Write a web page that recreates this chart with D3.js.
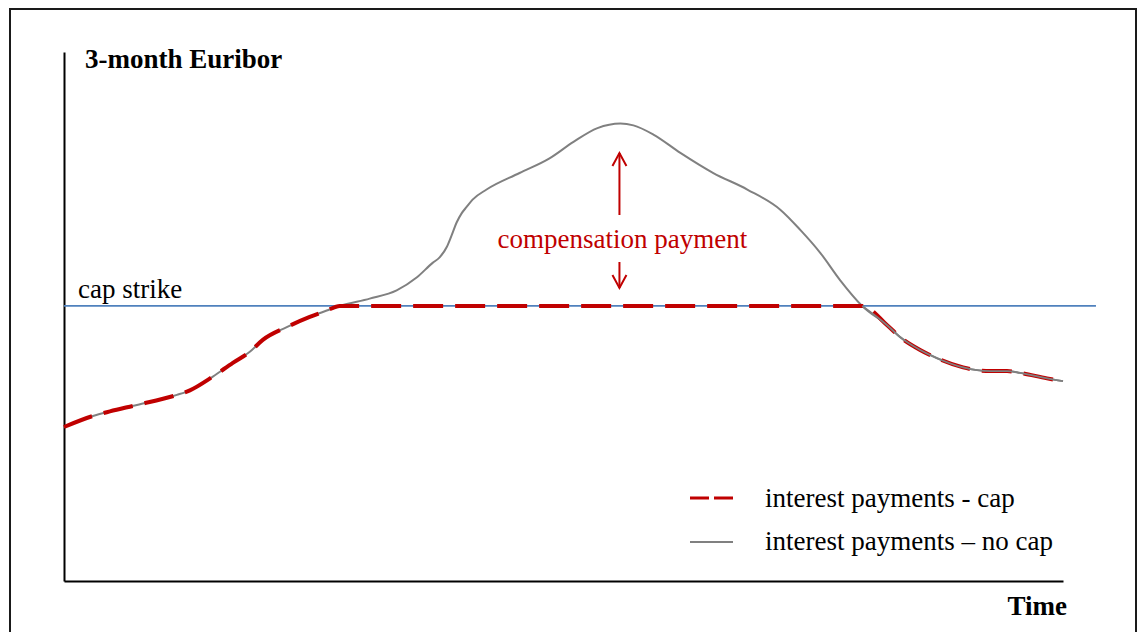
<!DOCTYPE html>
<html>
<head>
<meta charset="utf-8">
<script src="https://cdn.jsdelivr.net/npm/d3@7"></script>
<style>
  html, body { margin: 0; padding: 0; background: #fff; }
  svg { display: block; }
  text { font-family: "Liberation Serif", "Times New Roman", serif; }
</style>
</head>
<body>
<svg id="chart" width="1141" height="632"></svg>
<script>
// Time axis (arbitrary units 0..100) and 3-month Euribor level (%)
const timePoints = [0, 2.9, 4.6, 7.3, 11.3, 12.6, 14.9, 16.9, 18.6, 19.9, 22.3, 24.6, 26.3, 27.6,
  30.6, 33.3, 35.3, 36.9, 37.6, 38.3, 38.8, 39.3, 39.8, 40.3, 40.9, 42.3, 45.6, 48.6, 51.0, 53.4, 55.7, 57.0, 59.0,
  61.7, 65.0, 68.4, 71.7, 73.7, 75.7, 77.7, 79.9, 82.4, 83.7, 85.7, 87.4, 90.0, 91.4, 92.7,
  94.4, 95.7, 98.4, 100];

// interest payments without a cap
const rateNoCap = [1.68, 1.80, 1.85, 1.92, 2.03, 2.08, 2.23, 2.38, 2.50, 2.63, 2.77, 2.88, 2.95, 3.00,
  3.08, 3.17, 3.31, 3.47, 3.53, 3.64, 3.77, 3.91, 4.01, 4.08, 4.16, 4.27, 4.45, 4.61, 4.79, 4.94, 4.99, 4.97, 4.87,
  4.67, 4.45, 4.27, 4.05, 3.83, 3.58, 3.28, 3.00, 2.79, 2.66, 2.52, 2.43, 2.33, 2.30, 2.29,
  2.29, 2.27, 2.21, 2.18];

// interest payments with the cap in place
const rateCap = [1.68, 1.80, 1.85, 1.92, 2.03, 2.08, 2.23, 2.38, 2.50, 2.63, 2.77, 2.88, 2.95, 3.00,
  3.00, 3.00, 3.00, 3.00, 3.00, 3.00, 3.00, 3.00, 3.00, 3.00, 3.00, 3.00, 3.00, 3.00, 3.00, 3.00, 3.00, 3.00, 3.00,
  3.00, 3.00, 3.00, 3.00, 3.00, 3.00, 3.00, 3.00, 2.79, 2.66, 2.52, 2.43, 2.33, 2.30, 2.29,
  2.29, 2.27, 2.21, 2.18];

const capStrike = 3.0;

const legendLabels = ["interest payments - cap", "interest payments \u2013 no cap"];
const yAxisTitle = "3-month Euribor";
const xAxisTitle = "Time";
const strikeLabel = "cap strike";
const compensationLabel = "compensation payment";

const RED = "#C00000", GRAY = "#808080", BLUE = "#4F81BD";
const FS = 27;

const svg = d3.select("#chart");

// outer frame
svg.append("rect")
  .attr("x", 10).attr("y", 9).attr("width", 1126).attr("height", 660)
  .attr("fill", "none").attr("stroke", "#1a1a1a").attr("stroke-width", 2);

const x = d3.scaleLinear().domain([0, 100]).range([64, 1063]);
const y = d3.scaleLinear().domain([0, 5.77]).range([581, 52]);

// axes without ticks
const xAxis = d3.axisBottom(x).tickValues([]).tickSizeOuter(0);
const yAxis = d3.axisLeft(y).tickValues([]).tickSizeOuter(0);
svg.append("g").attr("transform", `translate(0,${y(0)})`).call(xAxis)
  .select(".domain").attr("stroke", "#000").attr("stroke-width", 2);
svg.append("g").attr("transform", `translate(${x(0)},0)`).call(yAxis)
  .select(".domain").attr("stroke", "#000").attr("stroke-width", 2);

// cap strike line
svg.append("line")
  .attr("x1", x(0)).attr("x2", x(103.3))
  .attr("y1", y(capStrike)).attr("y2", y(capStrike))
  .attr("stroke", BLUE).attr("stroke-width", 1.8);

const line = d3.line()
  .x((d, i) => x(timePoints[i]))
  .y(d => y(d))
  .curve(d3.curveMonotoneX);

// uncapped rate
svg.append("path").datum(rateNoCap)
  .attr("d", line).attr("fill", "none")
  .attr("stroke", GRAY).attr("stroke-width", 2);

// capped rate (dashed)
svg.append("path").datum(rateCap)
  .attr("d", line).attr("fill", "none")
  .attr("stroke", RED).attr("stroke-width", 4)
  .attr("stroke-dasharray", "30,12");

// uncapped rate drawn again over the falling tail
const tailStart = timePoints.indexOf(79.9);
const lineTail = d3.line()
  .x(d => x(d[0])).y(d => y(d[1])).curve(d3.curveMonotoneX);
svg.append("path")
  .datum(timePoints.slice(tailStart).map((t, i) => [t, rateNoCap[tailStart + i]]))
  .attr("d", lineTail).attr("fill", "none")
  .attr("stroke", GRAY).attr("stroke-width", 1.8);

// titles and labels
svg.append("text").attr("x", 85).attr("y", 68)
  .attr("font-size", FS).attr("font-weight", "bold").attr("fill", "#000")
  .text(yAxisTitle);
svg.append("text").attr("x", 1067).attr("y", 615).attr("text-anchor", "end")
  .attr("font-size", FS).attr("font-weight", "bold").attr("fill", "#000")
  .text(xAxisTitle);
svg.append("text").attr("x", 78).attr("y", 298)
  .attr("font-size", FS).attr("fill", "#000")
  .text(strikeLabel);

// compensation payment annotation
const peakT = 55.6;
const ax = x(peakT);
svg.append("text").attr("x", ax + 3).attr("y", 248).attr("text-anchor", "middle")
  .attr("font-size", FS).attr("fill", RED)
  .text(compensationLabel);

const arrow = svg.append("g").attr("stroke", RED).attr("stroke-width", 2).attr("fill", "none");
arrow.append("line").attr("x1", ax).attr("x2", ax).attr("y1", 215).attr("y2", 153);
arrow.append("path").attr("d", `M${ax - 7},${166} L${ax},${153} L${ax + 7},${166}`);
arrow.append("line").attr("x1", ax).attr("x2", ax).attr("y1", 262).attr("y2", 288);
arrow.append("path").attr("d", `M${ax - 7},${275} L${ax},${288} L${ax + 7},${275}`);

// legend
const legend = svg.append("g");
legend.append("line").attr("x1", 690).attr("x2", 733).attr("y1", 498).attr("y2", 498)
  .attr("stroke", RED).attr("stroke-width", 3).attr("stroke-dasharray", "19,5");
legend.append("line").attr("x1", 690).attr("x2", 733).attr("y1", 542).attr("y2", 542)
  .attr("stroke", GRAY).attr("stroke-width", 2);
legend.selectAll("text.lg").data(legendLabels).enter().append("text")
  .attr("class", "lg")
  .attr("x", 765).attr("y", (d, i) => 507 + i * 43)
  .attr("font-size", FS).attr("fill", "#000")
  .text(d => d);
</script>
</body>
</html>
